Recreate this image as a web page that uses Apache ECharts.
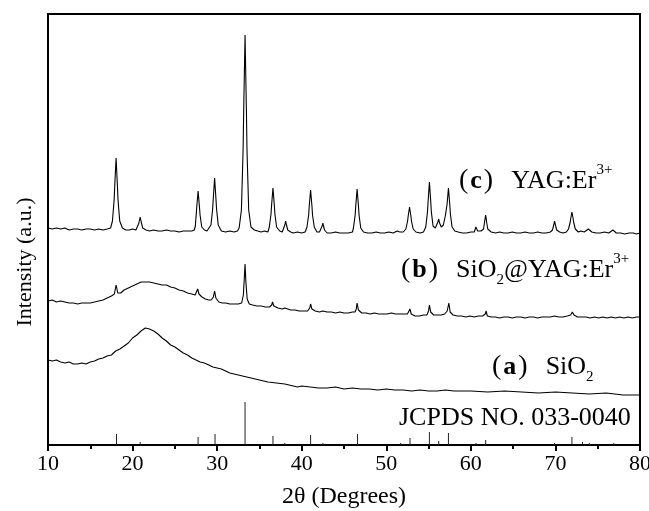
<!DOCTYPE html>
<html><head><meta charset="utf-8">
<script src="https://cdn.jsdelivr.net/npm/echarts@6/dist/echarts.min.js"></script>
<style>html,body{margin:0;padding:0;background:#fff}#c{width:649px;height:511px}</style>
</head><body><div id="c"></div><script>
// x tick labels
const xTicks = [10, 20, 30, 40, 50, 60, 70, 80];

// (c) YAG:Er3+ pattern  [2theta, intensity a.u.]
const yagEr = [
[10.0,217],[10.5,216],[11.0,217],[11.5,216],[12.0,217],[12.5,215],[13.0,216],[13.5,216],[14.0,215],[14.5,216],
[15.0,216],[15.5,215],[16.0,216],[16.5,215],[17.0,216],[17.4,217],
[17.62,224],[17.82,245],[17.89,259],[18.05,287],[18.21,259],[18.28,245],[18.48,224],
[18.8,217],[19.2,215],[19.6,215],[20.0,216],[20.4,215],
[20.6,217],[20.75,222],[20.9,228],[21.05,222],[21.2,217],
[21.6,215],[22.0,214],[22.5,215],[23.0,214],[23.5,214],[24.0,215],[24.5,214],[25.0,214],[25.5,213],[26.0,214],
[26.5,214],[27.0,214],[27.3,215],
[27.42,219],[27.52,230],[27.59,238],[27.75,254],[27.91,238],[27.98,230],[28.18,218],
[28.5,215],[28.8,214],[29.0,215],
[29.27,220],[29.47,236],[29.54,246],[29.7,267],[29.86,246],[29.93,236],[30.13,220],
[30.5,214],[31.0,213],[31.5,214],[32.0,213],[32.4,214],
[32.6,217],[32.87,235],[33.07,295],[33.14,335],[33.3,410],[33.46,335],[33.53,295],[33.73,235],[34.0,218],
[34.4,215],[34.8,214],[35.2,213],[35.6,214],[36.0,213],
[36.17,218],[36.37,231],[36.44,240],[36.6,257],[36.76,240],[36.83,231],[37.03,218],
[37.4,214],[37.7,213],
[37.85,215],[38.0,220],[38.1,224],[38.2,220],[38.35,215],
[38.7,213],[39.0,212],[39.5,213],[40.0,212],[40.4,213],
[40.62,218],[40.82,230],[40.89,239],[41.05,255],[41.21,239],[41.28,230],[41.48,218],
[41.8,213],[42.1,213],
[42.3,215],[42.42,219],[42.5,222],[42.58,219],[42.7,215],
[43.0,212],[43.5,212],[44.0,213],[44.5,212],[45.0,212],[45.5,212],[46.0,213],
[46.12,217],[46.32,230],[46.39,239],[46.55,256],[46.71,239],[46.78,230],[46.98,217],
[47.3,213],[47.8,212],[48.3,212],[48.8,213],[49.3,212],[49.8,212],[50.3,213],[50.8,212],[51.3,214],[51.6,213],[52.0,213],
[52.32,216],[52.52,224],[52.59,229],[52.75,238],[52.91,229],[52.98,224],[53.18,216],
[53.5,213],[54.0,212],[54.4,213],
[54.67,218],[54.87,233],[54.94,243],[55.1,263],[55.26,243],[55.33,233],[55.53,219],[55.8,217],
[55.95,218],[56.1,223],[56.2,226],[56.3,222],[56.5,218],[56.75,220],
[57.0,230],[57.19,241],[57.35,257],[57.51,240],[57.58,231],[57.78,218],
[58.1,214],[58.5,213],[59.0,212],[59.5,212],[60.0,213],[60.4,213],[60.6,218],[60.8,214],[61.2,214],
[61.5,216],[61.62,223],[61.75,230],[61.88,222],[62.0,216],
[62.4,213],[62.9,212],[63.4,213],[63.9,212],[64.4,212],[64.9,213],[65.4,212],[65.9,212],[66.4,213],[66.9,212],
[67.4,212],[67.9,213],[68.4,212],[68.9,212],[69.4,213],
[69.65,215],[69.8,220],[69.9,224],[70.0,220],[70.15,215],
[70.5,213],[70.9,212],[71.3,213],
[71.55,216],[71.75,223],[71.82,227],[71.95,233],[72.08,227],[72.15,223],[72.35,216],
[72.7,213],[73.0,214],[73.4,213],[73.9,216],[74.3,213],[74.8,212],[75.3,212],[75.8,213],[76.3,212],[76.8,215],
[77.2,212],[77.7,212],[78.2,211],[78.7,212],[79.2,212],[79.6,211],[80.0,212]
];

// (b) SiO2@YAG:Er3+ pattern
const sio2YagEr = [
[10.0,144],[10.5,145],[11.0,143],[11.5,144],[12.0,143],[12.5,142],[13.0,142],[13.5,141],[14.0,142],[14.5,142],
[15.0,142],[15.5,143],[16.0,144],[16.5,145],[17.0,147],[17.5,149],[17.85,151],[18.05,160],[18.25,152],[18.6,152],
[19.0,155],[19.5,157],[20.0,159],[20.5,161],[21.0,163],[21.5,163],[22.0,163],[22.5,162],[23.0,161],[23.5,160],
[24.0,160],[24.5,158],[25.0,157],[25.5,155],[26.0,154],[26.5,152],[27.0,151],[27.4,150],
[27.55,152],[27.7,156],[27.85,151],[28.2,148],[28.6,146],[29.0,145],[29.3,145],
[29.55,148],[29.7,154],[29.85,147],[30.2,143],[30.6,142],[31.0,142],[31.5,141],[32.0,141],[32.5,141],[32.9,142],
[33.1,150],[33.2,165],[33.3,181],[33.4,163],[33.55,146],[33.8,141],
[34.2,140],[34.7,139],[35.2,139],[35.7,138],[36.2,138],[36.45,140],[36.55,143],[36.7,139],
[37.2,137],[37.7,136],[38.0,137],[38.2,136],[38.7,135],[39.2,135],[39.7,134],[40.2,134],[40.7,134],
[40.95,137],[41.05,141],[41.2,136],[41.6,134],[42.1,133],[42.5,134],[43.0,133],[43.5,133],[44.0,132],[44.5,133],
[45.0,132],[45.5,132],[46.0,133],[46.3,133],[46.45,136],[46.55,142],[46.7,135],
[47.1,132],[47.6,132],[48.1,131],[48.6,132],[49.1,131],[49.6,131],[50.1,131],[50.6,132],[51.1,131],[51.6,131],
[52.1,131],[52.5,131],[52.7,133],[52.8,136],[52.95,131],[53.4,129],[53.9,129],[54.4,130],[54.8,130],
[55.0,134],[55.1,140],[55.25,133],[55.6,130],[56.0,130],[56.2,131],[56.5,130],[56.9,131],[57.2,134],
[57.4,142],[57.55,133],[57.9,130],[58.4,129],[58.9,129],[59.4,128],[59.9,129],[60.4,128],[60.9,129],[61.4,129],
[61.7,131],[61.8,134],[61.95,129],[62.4,128],[62.9,128],[63.4,127],[63.9,128],[64.4,128],[64.9,127],[65.4,128],
[65.9,128],[66.4,127],[66.9,128],[67.4,128],[67.9,127],[68.4,128],[68.9,128],[69.4,128],[69.9,129],[70.4,128],
[70.9,128],[71.4,129],[71.8,130],[72.0,133],[72.05,135],[72.2,130],[72.6,128],[73.1,128],[73.6,128],[74.1,127],
[74.6,128],[75.1,127],[75.6,128],[76.1,127],[76.6,128],[77.1,127],[77.6,128],[78.1,127],[78.6,128],[79.1,127],
[79.6,128],[80.0,128]
];

// (a) SiO2 pattern
const sio2 = [
[10.0,85],[10.5,84],[11.0,85],[11.5,83],[12.0,82],[12.5,83],[13.0,81],[13.5,81],[14.0,82],[14.5,81],
[15.0,83],[15.5,84],[16.0,86],[16.5,87],[17.0,89],[17.5,90],[18.0,94],[18.5,96],[19.0,99],[19.5,102],
[20.0,107],[20.5,110],[21.0,114],[21.5,117],[22.0,116],[22.5,114],[23.0,111],[23.5,107],[24.0,104],[24.5,100],
[25.0,98],[25.5,95],[26.0,92],[26.5,90],[27.0,87],[27.5,85],[28.0,83],[28.5,82],[29.0,80],[29.5,78],
[30.0,77],[30.5,76],[31.0,74],[31.5,72],[32.0,71],[32.5,70],[33.0,69],[33.5,68],[34.0,67],[34.5,66],
[35.0,65],[35.5,64],[36.0,63],[37.0,62],[38.0,61],[39.0,59],[39.5,58],[40.0,59],[41.0,58],[42.0,57],
[43.0,57],[44.0,58],[45.0,56],[46.0,57],[47.0,56],[48.0,56],[49.0,55],[50.0,56],[51.0,55],[52.0,55],
[53.0,54],[54.0,55],[55.0,54],[56.0,54],[57.0,55],[58.0,54],[60.0,54],[62.0,53],[64.0,54],[66.0,53],
[68.0,52],[70.0,53],[72.0,52],[74.0,51],[76.0,52],[78.0,50],[80.0,50]
];

// JCPDS No. 033-0040 reference lines [2theta, relative height]
const jcpds = [
[18.1,11],[20.9,3],[27.75,8],[29.75,11],[33.3,43],[36.6,9],[38.0,2],[41.05,10],[42.5,2],[46.6,11],
[51.7,2],[52.8,7],[55.1,13],[56.2,4],[57.35,12],[60.6,2],[61.75,5],[69.9,2],[71.95,8],[73.2,3],[74.0,2],[76.9,2]
];

const refLabel = 'JCPDS NO. 033-0040';

const FONT = '"Liberation Serif", "Times New Roman", serif';
const chart = echarts.init(document.getElementById('c'), null, {renderer: 'canvas'});

const rich = {
  pl: {fontFamily: FONT, fontSize: 28, lineHeight: 36, color: '#000', padding: [0, 2, 0, 0]},
  pr: {fontFamily: FONT, fontSize: 28, lineHeight: 36, color: '#000', padding: [0, 18, 0, 2]},
  b: {fontFamily: FONT, fontSize: 26, fontWeight: 'bold', lineHeight: 36, color: '#000'},
  n: {fontFamily: FONT, fontSize: 26, lineHeight: 36, color: '#000'},
  sup: {fontFamily: FONT, fontSize: 15, lineHeight: 15, verticalAlign: 'top', color: '#000'},
  sub: {fontFamily: FONT, fontSize: 15, lineHeight: 15, verticalAlign: 'bottom', color: '#000'}
};

function lineSeries(data) {
  return {
    type: 'line', data: data, showSymbol: false, symbol: 'none',
    lineStyle: {color: '#000', width: 1.1}, silent: true, z: 3
  };
}

chart.setOption({
  animation: false,
  backgroundColor: '#fff',
  grid: {left: 48, right: 9, top: 14, bottom: 66, containLabel: false, outerBoundsMode: 'none',
         show: true, borderColor: '#000', borderWidth: 2, backgroundColor: 'transparent'},
  xAxis: {
    type: 'value', min: xTicks[0], max: xTicks[xTicks.length - 1], interval: 10,
    name: '2θ (Degrees)', nameLocation: 'middle', nameGap: 40,
    nameTextStyle: {fontFamily: FONT, fontSize: 24, color: '#000'},
    axisLine: {show: true, lineStyle: {color: '#000', width: 2}},
    axisTick: {show: true, inside: false, length: 6, lineStyle: {color: '#000', width: 2}},
    minorTick: {show: true, splitNumber: 2, length: 4, lineStyle: {color: '#000', width: 2}},
    axisLabel: {fontFamily: FONT, fontSize: 22, color: '#000', margin: 8},
    splitLine: {show: false}
  },
  yAxis: {
    type: 'value', min: 0, max: 431,
    axisLine: {show: true, lineStyle: {color: '#000', width: 2}},
    axisTick: {show: false}, axisLabel: {show: false}, splitLine: {show: false}
  },
  series: [
    lineSeries(yagEr),
    lineSeries(sio2YagEr),
    lineSeries(sio2),
    {type: 'bar', data: jcpds, barWidth: 1, itemStyle: {color: '#222'}, silent: true, z: 2}
  ],
  graphic: [
    {type: 'text', x: 25, y: 262, rotation: Math.PI / 2, silent: true, style: {
      text: 'Intensity (a.u.)', fontFamily: FONT, fontSize: 22, fill: '#000', align: 'center', verticalAlign: 'middle'}},
    {type: 'text', x: 459, y: 181, silent: true, style: {
      text: '{pl|(}{b|c}{pr|)}{n|YAG:Er}{sup|3+}', rich: rich, verticalAlign: 'middle', align: 'left'}},
    {type: 'text', x: 401, y: 270, silent: true, style: {
      text: '{pl|(}{b|b}{pr|)}{n|SiO}{sub|2}{n|@YAG:Er}{sup|3+}', rich: rich, verticalAlign: 'middle', align: 'left'}},
    {type: 'text', x: 492, y: 367, silent: true, style: {
      text: '{pl|(}{b|a}{pr|)}{n|SiO}{sub|2}', rich: rich, verticalAlign: 'middle', align: 'left'}},
    {type: 'text', x: 399, y: 418, silent: true, style: {
      text: refLabel, fontFamily: FONT, fontSize: 26, fill: '#000', verticalAlign: 'middle', align: 'left'}}
  ]
});
</script></body></html>
